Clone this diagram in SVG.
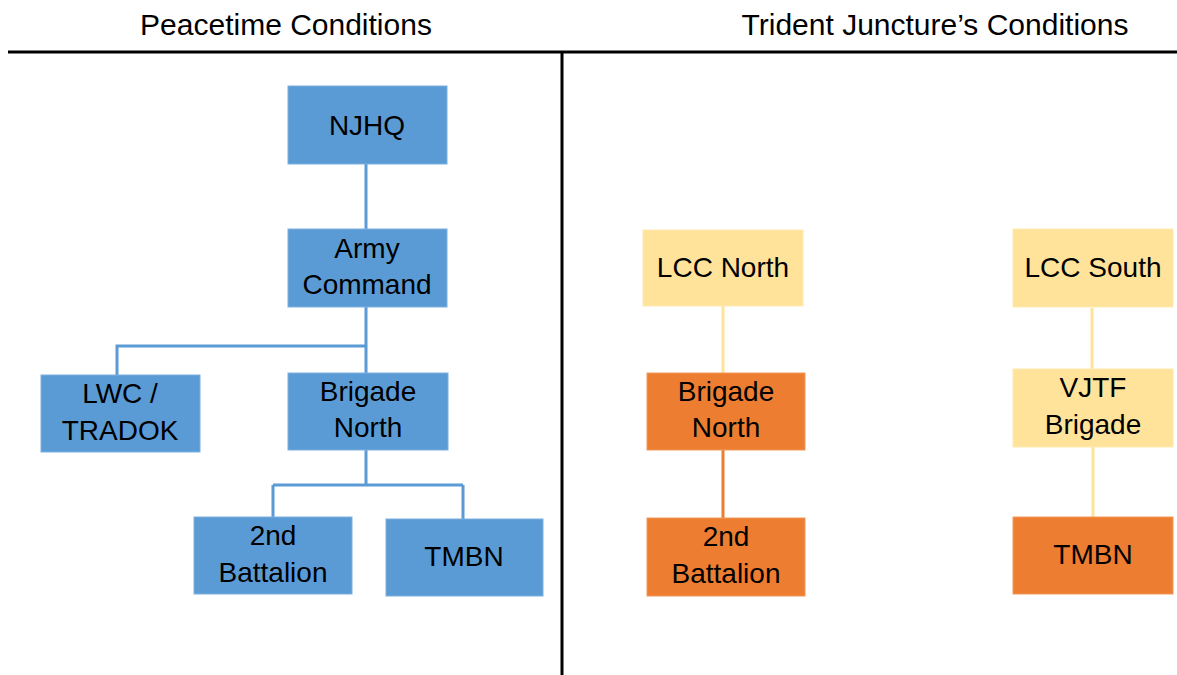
<svg xmlns="http://www.w3.org/2000/svg" width="1177" height="675" viewBox="0 0 1177 675">
<style>
text{font-family:"Liberation Sans",Arial,sans-serif;fill:#000;text-anchor:middle}
.title{font-size:30px}
.lbl{font-size:28px}
.blue{fill:#5B9BD5;stroke:#7DB0E0;stroke-width:1}
.yel{fill:#FFE39A;stroke:#FFEAB0;stroke-width:1}
.org{fill:#ED7D31;stroke:#F19A5E;stroke-width:1}
.cb{stroke:#5B9BD5;stroke-width:3;fill:none}
.cy{stroke:#FFE39A;stroke-width:3;fill:none}
.co{stroke:#ED7D31;stroke-width:3;fill:none}
.div{stroke:#000;stroke-width:3;fill:none}
</style>
<rect width="1177" height="675" fill="#fff"/>
<g id="headers">
<text class="title" x="286" y="35">Peacetime Conditions</text>
<text class="title" x="935" y="35">Trident Juncture’s Conditions</text>
<path class="div" d="M8 52H1177M562 52V675"/>
</g>
<g id="connectors">
<path class="cb" d="M366 164V229"/>
<path class="cb" d="M366 307V373M366 346H117V375"/>
<path class="cb" d="M366 450V485M273 485H463M273 485V517M463 485V519"/>
<path class="cy" d="M723 306V373"/>
<path class="co" d="M723 450V518"/>
<path class="cy" d="M1092 308V369"/>
<path class="cy" d="M1093 447V517"/>
</g>
<g id="njhq"><rect class="blue" x="288" y="86" width="159" height="78"/><text class="lbl" x="367" y="135">NJHQ</text></g>
<g id="army-command"><rect class="blue" x="288" y="229" width="159" height="78"/><text class="lbl" x="367" y="258">Army</text><text class="lbl" x="367" y="294">Command</text></g>
<g id="lwc-tradok"><rect class="blue" x="41" y="375" width="159" height="77"/><text class="lbl" x="120" y="403">LWC /</text><text class="lbl" x="120" y="440">TRADOK</text></g>
<g id="brigade-north"><rect class="blue" x="288" y="373" width="160" height="77"/><text class="lbl" x="368" y="401">Brigade</text><text class="lbl" x="368" y="437">North</text></g>
<g id="second-battalion"><rect class="blue" x="194" y="517" width="158" height="77"/><text class="lbl" x="273" y="545">2nd</text><text class="lbl" x="273" y="582">Battalion</text></g>
<g id="tmbn"><rect class="blue" x="386" y="519" width="157" height="77"/><text class="lbl" x="464" y="566">TMBN</text></g>
<g id="lcc-north"><rect class="yel" x="643" y="230" width="160" height="76"/><text class="lbl" x="723" y="277">LCC North</text></g>
<g id="brigade-north-tj"><rect class="org" x="647" y="373" width="158" height="77"/><text class="lbl" x="726" y="401">Brigade</text><text class="lbl" x="726" y="437">North</text></g>
<g id="second-battalion-tj"><rect class="org" x="647" y="518" width="158" height="78"/><text class="lbl" x="726" y="546">2nd</text><text class="lbl" x="726" y="583">Battalion</text></g>
<g id="lcc-south"><rect class="yel" x="1013" y="229" width="160" height="78"/><text class="lbl" x="1093" y="277">LCC South</text></g>
<g id="vjtf-brigade"><rect class="yel" x="1013" y="369" width="160" height="78"/><text class="lbl" x="1093" y="397">VJTF</text><text class="lbl" x="1093" y="434">Brigade</text></g>
<g id="tmbn-tj"><rect class="org" x="1013" y="517" width="160" height="77"/><text class="lbl" x="1093" y="564">TMBN</text></g>
</svg>
